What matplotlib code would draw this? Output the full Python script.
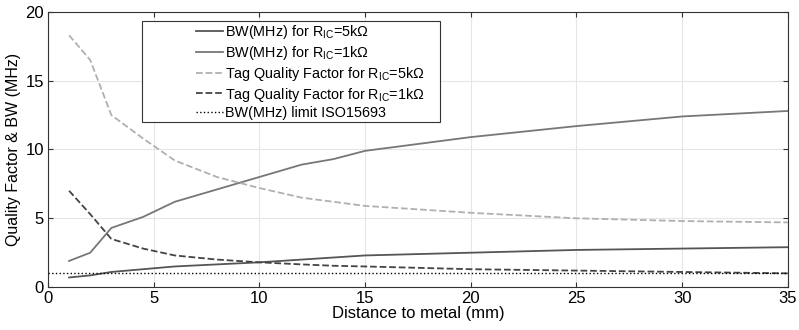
import numpy as np
import matplotlib
matplotlib.use('Agg')
import matplotlib.pyplot as plt
from matplotlib.patches import Rectangle

plt.rcParams['font.family'] = ['Liberation Sans', 'DejaVu Sans']
plt.rcParams['mathtext.fontset'] = 'custom'
plt.rcParams['mathtext.rm'] = 'Liberation Sans'

#Distance to metal (mm)
dist = [1, 2, 3, 4.5, 6, 8, 10, 12, 13.5, 15, 20, 25, 30, 35]

#Bandwidths (MHz)
bw_5k = [0.7, 0.85, 1.1, 1.3, 1.5, 1.65, 1.8, 2.0, 2.15, 2.3, 2.5, 2.7, 2.8, 2.9]
bw_1k = [1.9, 2.5, 4.3, 5.1, 6.2, 7.1, 8.0, 8.9, 9.3, 9.9, 10.9, 11.7, 12.4, 12.8]

#Tag quality factors
q_5k = [18.3, 16.5, 12.5, 10.8, 9.2, 8.0, 7.2, 6.5, 6.2, 5.9, 5.4, 5.0, 4.8, 4.7]
q_1k = [7.0, 5.3, 3.5, 2.8, 2.3, 2.0, 1.8, 1.65, 1.55, 1.5, 1.3, 1.2, 1.1, 1.0]

bw_limit = 1.0

fig = plt.figure(figsize=(7.99, 3.3), dpi=100)
ax = fig.add_axes([0.060, 0.130, 0.926, 0.834])

ax.plot(dist, bw_5k, '-', color='#555555', lw=1.3, label=r'BW(MHz) for R$_{\mathrm{IC}}$=5k$\Omega$')
ax.plot(dist, bw_1k, '-', color='#777777', lw=1.3, label=r'BW(MHz) for R$_{\mathrm{IC}}$=1k$\Omega$')
ax.plot(dist, q_5k, '--', color='#b0b0b0', lw=1.3, label=r'Tag Quality Factor for R$_{\mathrm{IC}}$=5k$\Omega$')
ax.plot(dist, q_1k, '--', color='#444444', lw=1.3, label=r'Tag Quality Factor for R$_{\mathrm{IC}}$=1k$\Omega$')
ax.axhline(bw_limit, ls=':', color='black', lw=1.0, label='BW(MHz) limit ISO15693')

ax.set_xlim(0, 35)
ax.set_ylim(0, 20)
ax.set_xticks(np.arange(0, 36, 5))
ax.set_yticks(np.arange(0, 21, 5))
ax.grid(True, color='#e6e6e6', lw=0.8)
ax.set_axisbelow(True)
ax.tick_params(direction='in', labelsize=12, top=True, right=True, color='#333333', pad=3)
for s in ax.spines.values():
    s.set_color('#333333')
    s.set_linewidth(0.8)

ax.set_xlabel('Distance to metal (mm)', fontsize=12, labelpad=0)
ax.set_ylabel('Quality Factor & BW (MHz)', fontsize=11.5, labelpad=3)

# matlab-style legend: entries pushed to the right inside a wider box
box = Rectangle((0.127, 0.600), 0.403, 0.367, transform=ax.transAxes,
                facecolor='white', edgecolor='#333333', lw=0.8, zorder=4)
ax.add_patch(box)
leg = ax.legend(loc='upper left', bbox_to_anchor=(0.200, 0.960), fontsize=10.4,
                frameon=False, handlelength=1.9, handletextpad=0.1, borderpad=0,
                labelspacing=0.2, borderaxespad=0)
leg.set_zorder(5)

fig.savefig('out.png', dpi=100)
